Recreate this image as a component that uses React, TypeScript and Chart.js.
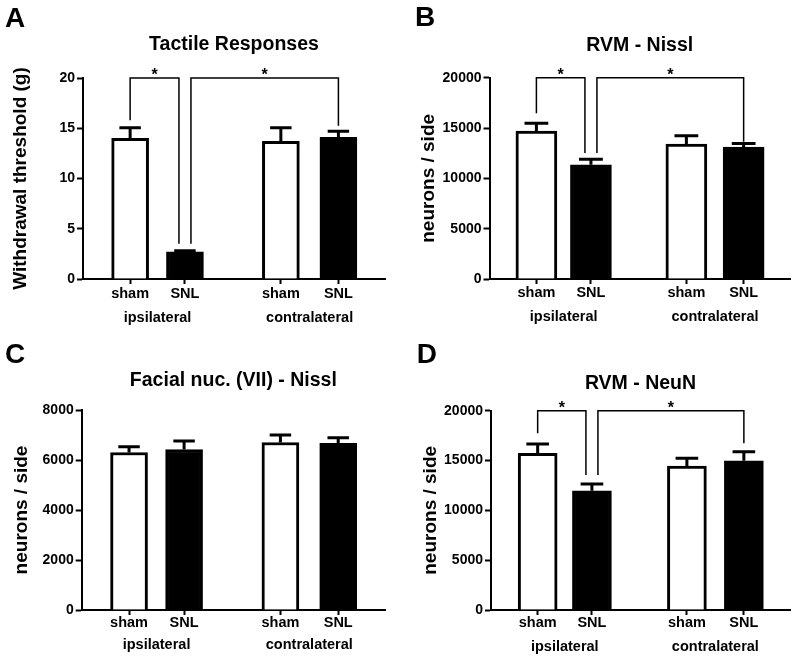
import React, { useEffect, useRef } from 'react';
import { Chart, registerables } from 'chart.js';

Chart.register(...registerables);

// ---------- data ----------
const conditions = ['sham', 'SNL', 'sham', 'SNL'];
const sides = ['ipsilateral', 'contralateral'];

const tactileMean = [14.0, 2.7, 13.7, 14.1];
const tactileErr = [1.05, 0.1, 1.35, 0.6];
const tactileTicks = [0, 5, 10, 15, 20];
const tactileBrackets = [
  { from: 0, to: 1, fromY: 15.8, toY: 3.5, topY: 20, label: '*' },
  { from: 1, to: 3, fromY: 3.5, toY: 15.25, topY: 20, label: '*' },
];

const rvmNisslMean = [14700, 11350, 13400, 13100];
const rvmNisslErr = [770, 540, 830, 370];
const rvmNisslTicks = [0, 5000, 10000, 15000, 20000];
const rvmNisslBrackets = [
  { from: 0, to: 1, fromY: 16460, toY: 12520, topY: 20000, label: '*' },
  { from: 1, to: 3, fromY: 12520, toY: 13640, topY: 20000, label: '*' },
];

const facialMean = [6300, 6420, 6700, 6670];
const facialErr = [230, 340, 300, 220];
const facialTicks = [0, 2000, 4000, 6000, 8000];

const rvmNeuNMean = [15720, 11970, 14450, 14980];
const rvmNeuNErr = [940, 670, 770, 900];
const rvmNeuNTicks = [0, 5000, 10000, 15000, 20000];
const rvmNeuNBrackets = [
  { from: 0, to: 1, fromY: 17730, toY: 13550, topY: 20000, label: '*' },
  { from: 1, to: 3, fromY: 13550, toY: 16730, topY: 20000, label: '*' },
];

// ---------- layout / style ----------
const BAR_SLOTS = [1, 2, 3.75, 4.8];
const GROUP_SLOTS = [1.5, 4.275];
const X_MIN = 0.14;
const X_MAX = 5.65;
const FILLS = ['#ffffff', '#000000', '#ffffff', '#000000'];
const LEG_SHIFT = [[0, -6], [6, 0]];
const FONT = '"Liberation Sans", Arial, Helvetica, sans-serif';
const FS_TITLE = 19.5;
const FS_YTITLE = 19;
const FS_X = 14.5;
const FS_TICK = 14;
const MID = 0.3465;
const X_TICK = 5;
const X1H = 24;

type Layout = {
  cx: number; cy: number; w: number; h: number;
  left: number; right: number; top: number; bottom: number;
  titleBase: number; yTitleMid: number; letter: string; lx: number; ly: number;
  barW: number; row1: number; row2: number;
};

type PanelCfg = {
  title: string; yTitle: string; mean: number[]; err: number[]; ticks: number[];
  brackets: { from: number; to: number; fromY: number; toY: number; topY: number; label: string }[];
  layout: Layout;
};

const panels: PanelCfg[] = [
  {
    title: 'Tactile Responses', yTitle: 'Withdrawal threshold (g)',
    mean: tactileMean, err: tactileErr, ticks: tactileTicks, brackets: tactileBrackets,
    layout: { cx: 0, cy: 0, w: 400, h: 330, left: 83, right: 385, top: 78, bottom: 279,
      titleBase: 51, yTitleMid: 21, letter: 'A', lx: 5, ly: 27, barW: 37, row1: 20, row2: 43.7 },
  },
  {
    title: 'RVM - Nissl', yTitle: 'neurons / side',
    mean: rvmNisslMean, err: rvmNisslErr, ticks: rvmNisslTicks, brackets: rvmNisslBrackets,
    layout: { cx: 400, cy: 0, w: 400, h: 330, left: 89.5, right: 390, top: 77.7, bottom: 279,
      titleBase: 52, yTitleMid: 28.7, letter: 'B', lx: 15, ly: 26, barW: 41, row1: 18.7, row2: 42.7 },
  },
  {
    title: 'Facial nuc. (VII) - Nissl', yTitle: 'neurons / side',
    mean: facialMean, err: facialErr, ticks: facialTicks, brackets: [],
    layout: { cx: 0, cy: 330, w: 400, h: 329, left: 81.7, right: 385, top: 80, bottom: 280,
      titleBase: 57, yTitleMid: 22, letter: 'C', lx: 5, ly: 33, barW: 37, row1: 17.7, row2: 40 },
  },
  {
    title: 'RVM - NeuN', yTitle: 'neurons / side',
    mean: rvmNeuNMean, err: rvmNeuNErr, ticks: rvmNeuNTicks, brackets: rvmNeuNBrackets,
    layout: { cx: 400, cy: 330, w: 400, h: 329, left: 91, right: 390, top: 80.7, bottom: 280,
      titleBase: 60, yTitleMid: 30.4, letter: 'D', lx: 16.7, ly: 32.7, barW: 39, row1: 18.3, row2: 41.7 },
  },
];

const font = (size: number) => ({ family: FONT, size, weight: 'bold' as const, lineHeight: 1.2 });

function Panel({ cfg }: { cfg: PanelCfg }) {
  const ref = useRef<HTMLCanvasElement>(null);
  useEffect(() => {
    const canvas = ref.current;
    if (!canvas) return;
    const L = cfg.layout;
    const titleLH = FS_TITLE * 1.2;
    const titlePadTop = L.titleBase - MID * FS_TITLE - titleLH / 2;
    const titlePadBottom = L.top - titlePadTop - titleLH;
    const yTitlePad = L.yTitleMid - (FS_YTITLE * 1.2) / 2;
    const xLH = FS_X * 1.2;
    const x1Pad = L.row1 - MID * FS_X - xLH / 2 - X_TICK;
    const x2Pad = L.row2 - X1H - MID * FS_X - xLH / 2;

    const annot = {
      id: 'annot',
      afterDatasetsDraw(chart: any) {
        const { ctx } = chart;
        const xs = chart.scales.x;
        const ys = chart.scales.y;
        ctx.save();
        ctx.strokeStyle = '#000';
        ctx.fillStyle = '#000';
        ctx.lineWidth = 3;
        ctx.lineCap = 'butt';
        cfg.mean.forEach((m, i) => {
          const px = xs.getPixelForValue(BAR_SLOTS[i]);
          const y0 = ys.getPixelForValue(m);
          const y1 = ys.getPixelForValue(m + cfg.err[i]);
          const half = L.barW * 0.29;
          ctx.beginPath();
          ctx.moveTo(px, y0);
          ctx.lineTo(px, y1);
          ctx.moveTo(px - half, y1);
          ctx.lineTo(px + half, y1);
          ctx.stroke();
        });
        ctx.lineWidth = 1.5;
        cfg.brackets.forEach((b, k) => {
          const sh = LEG_SHIFT[k] || [0, 0];
          const xa = xs.getPixelForValue(BAR_SLOTS[b.from]) + sh[0];
          const xb = xs.getPixelForValue(BAR_SLOTS[b.to]) + sh[1];
          const ya = ys.getPixelForValue(b.fromY);
          const yb = ys.getPixelForValue(b.toY);
          const yt = ys.getPixelForValue(b.topY);
          ctx.beginPath();
          ctx.moveTo(xa, ya);
          ctx.lineTo(xa, yt);
          ctx.lineTo(xb, yt);
          ctx.lineTo(xb, yb);
          ctx.stroke();
          ctx.font = `bold 16px ${FONT}`;
          ctx.textAlign = 'center';
          ctx.textBaseline = 'alphabetic';
          ctx.fillText(b.label, (xa + xb) / 2, yt + 2);
        });
        ctx.restore();
      },
      afterDraw(chart: any) {
        const { ctx } = chart;
        ctx.save();
        ctx.fillStyle = '#000';
        ctx.font = `bold 28px ${FONT}`;
        ctx.textAlign = 'left';
        ctx.textBaseline = 'alphabetic';
        ctx.fillText(L.letter, L.lx, L.ly);
        ctx.restore();
      },
    };

    const chart = new Chart(canvas, {
      type: 'bar',
      data: {
        datasets: [
          {
            data: BAR_SLOTS.map((x, i) => ({ x, y: cfg.mean[i] })) as any,
            backgroundColor: FILLS,
            borderColor: '#000',
            borderWidth: 3,
            barThickness: L.barW,
            borderSkipped: 'start',
          },
        ],
      },
      options: {
        responsive: false,
        animation: false,
        devicePixelRatio: 1,
        layout: { padding: { left: 0, top: 0, right: L.w - L.right, bottom: 0 } },
        plugins: {
          legend: { display: false },
          tooltip: { enabled: false },
          title: {
            display: true,
            text: cfg.title,
            fullSize: false,
            color: '#000',
            font: font(FS_TITLE),
            padding: { top: titlePadTop, bottom: titlePadBottom },
          },
        },
        scales: {
          x: {
            type: 'linear',
            position: 'bottom',
            min: X_MIN,
            max: X_MAX,
            offset: false,
            bounds: 'data',
            afterBuildTicks: (s: any) => { s.ticks = BAR_SLOTS.map((v) => ({ value: v })); },
            afterFit: (s: any) => { s.height = X1H; },
            ticks: {
              callback: (_v: any, i: number) => conditions[i],
              autoSkip: false, maxRotation: 0, minRotation: 0,
              padding: x1Pad, color: '#000', font: font(FS_X),
            },
            grid: { display: true, drawOnChartArea: false, drawTicks: true, tickLength: X_TICK, tickWidth: 2, color: '#000', offset: false },
            border: { display: true, color: '#000', width: 2 },
          },
          x2: {
            type: 'linear',
            position: 'bottom',
            weight: 1,
            min: X_MIN,
            max: X_MAX,
            offset: false,
            bounds: 'data',
            afterBuildTicks: (s: any) => { s.ticks = GROUP_SLOTS.map((v) => ({ value: v })); },
            afterFit: (s: any) => { s.height = L.h - L.bottom - X1H; },
            ticks: {
              callback: (_v: any, i: number) => sides[i],
              autoSkip: false, maxRotation: 0, minRotation: 0,
              padding: x2Pad, color: '#000', font: font(FS_X),
            },
            grid: { display: false, drawTicks: false, drawOnChartArea: false },
            border: { display: false },
          },
          y: {
            type: 'linear',
            position: 'left',
            min: cfg.ticks[0],
            max: cfg.ticks[cfg.ticks.length - 1],
            afterBuildTicks: (s: any) => { s.ticks = cfg.ticks.map((v) => ({ value: v })); },
            afterFit: (s: any) => { s.width = L.left; },
            ticks: { callback: (v: any) => String(v), padding: 2, color: '#000', font: font(FS_TICK) },
            grid: { display: true, drawOnChartArea: false, drawTicks: true, tickLength: 6, tickWidth: 2, color: '#000' },
            border: { display: true, color: '#000', width: 2 },
            title: {
              display: true, text: cfg.yTitle, color: '#000', font: font(FS_YTITLE),
              padding: { top: yTitlePad, bottom: 0 },
            },
          },
        },
      } as any,
      plugins: [annot],
    });
    return () => chart.destroy();
  }, [cfg]);

  const L = cfg.layout;
  return (
    <canvas
      ref={ref}
      width={L.w}
      height={L.h}
      style={{ position: 'absolute', left: L.cx, top: L.cy, width: L.w, height: L.h }}
    />
  );
}

export default function App() {
  return (
    <div style={{ position: 'absolute', left: 0, top: 0, width: 800, height: 659, background: '#ffffff', overflow: 'hidden' }}>
      {panels.map((p) => (
        <Panel key={p.layout.letter} cfg={p} />
      ))}
    </div>
  );
}
